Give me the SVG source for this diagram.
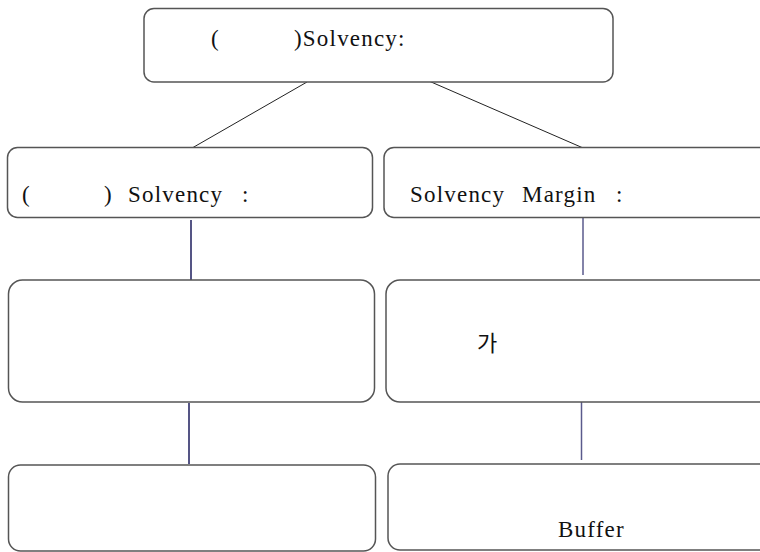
<svg xmlns="http://www.w3.org/2000/svg" width="760" height="552" viewBox="0 0 760 552">
<style>
.box{fill:#fff;stroke:#555;stroke-width:1.5}
.t{font-family:"Liberation Serif","Times New Roman",serif;font-size:23px;letter-spacing:1.2px;fill:#111}
.k{font-family:"Noto Sans CJK KR","Noto Sans",sans-serif;font-size:22px;fill:#111}
.c{stroke:#1c1c5c;stroke-width:1.5;fill:none}
.c2{stroke:#5a5a8c;stroke-width:1.5;fill:none}
.d{stroke:#222;stroke-width:1;fill:none}
</style>
<rect width="760" height="552" fill="#fff"/>
<g id="connectors">
<line class="d" x1="307" y1="82" x2="193" y2="147.5"/>
<line class="d" x1="430" y1="81.5" x2="582" y2="147.5"/>
<line class="c" x1="191" y1="220" x2="191" y2="280"/>
<line class="c" x1="189" y1="403" x2="189" y2="464"/>
<line class="c2" x1="583" y1="218" x2="583" y2="275"/>
<line class="c2" x1="581.5" y1="402" x2="581.5" y2="460"/>
</g>
<g id="n-top">
<rect class="box" x="144" y="8.5" width="469" height="73.5" rx="10"/>
<text class="t" y="46"><tspan x="211">(</tspan><tspan x="294">)Solvency:</tspan></text>
</g>
<g id="n-left2">
<rect class="box" x="7.5" y="147.5" width="365" height="70" rx="10"/>
<text class="t" y="202"><tspan x="22">(</tspan><tspan x="104">)</tspan><tspan x="128">Solvency</tspan><tspan x="242">:</tspan></text>
</g>
<g id="n-right2">
<rect class="box" x="384" y="147.5" width="390" height="70" rx="10"/>
<text class="t" y="202"><tspan x="410">Solvency</tspan><tspan x="522">Margin</tspan><tspan x="616">:</tspan></text>
</g>
<g id="n-left3">
<rect class="box" x="8.5" y="280" width="366" height="122" rx="14"/>
</g>
<g id="n-right3">
<rect class="box" x="386" y="280" width="390" height="122" rx="14"/>
<text class="k" x="477" y="351">가</text>
</g>
<g id="n-left4">
<rect class="box" x="8.5" y="465" width="367" height="86" rx="12"/>
</g>
<g id="n-right4">
<rect class="box" x="388" y="464" width="390" height="86" rx="12"/>
<text class="t" x="558" y="537">Buffer</text>
</g>
</svg>
